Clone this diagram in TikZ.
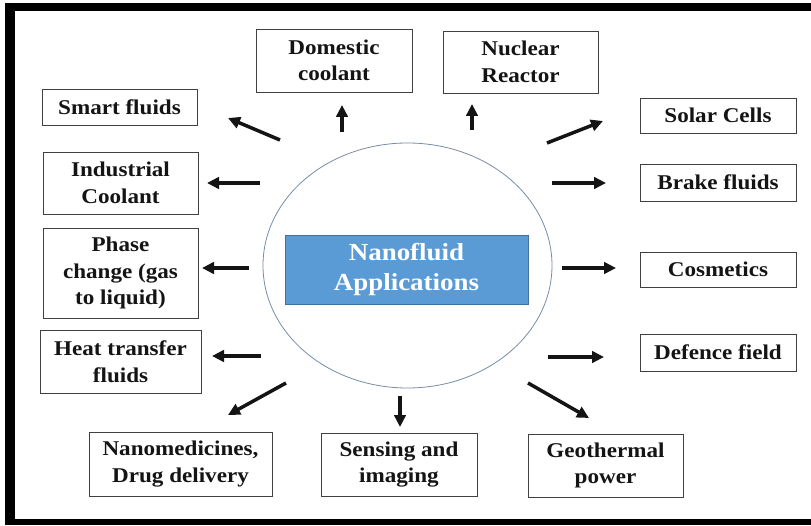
\documentclass[tikz,border=0pt]{standalone}
\usepackage{fontspec}
\setmainfont{Liberation Serif}
\newfontfamily\boxfont[FakeStretch=1.1]{Liberation Serif}
\usetikzlibrary{arrows.meta,shapes.geometric}
\definecolor{hubblue}{RGB}{91,155,213}
\definecolor{hubedge}{RGB}{65,113,156}
\definecolor{ringcol}{RGB}{120,140,165}
\definecolor{txt}{RGB}{20,20,20}
\tikzset{
  appbox/.style={draw=black!75, line width=0.8pt, fill=white, inner sep=0pt, align=center,
    font=\boxfont\bfseries\fontsize{21}{26.5}\selectfont, text=txt},
  arr/.style={line width=3.5pt, draw=txt, -{Triangle[length=12pt,width=11.5pt]}},
  framebar/.style={fill=black, draw=none}
}
\begin{document}
\begin{tikzpicture}[x=1pt,y=-1pt]
\useasboundingbox (0,0) rectangle (811,526);
% frame
\fill[framebar] (5,3) rectangle (811,11);
\fill[framebar] (5,3) rectangle (15,525);
\fill[framebar] (5,519) rectangle (811,525);
% hub
\node[ellipse, draw=ringcol, line width=0.8pt, minimum width=289pt, minimum height=245pt, inner sep=0pt] (ring) at (407.5,265.5) {};
\node[fill=hubblue, draw=hubedge, line width=0.8pt, minimum width=243pt, minimum height=69pt, inner sep=0pt, align=center,
  text=white, font=\boxfont\bfseries\fontsize{24.5}{30}\selectfont] (hub) at (406.5,269.5) {Nanofluid\\Applications};
% boxes
\node[appbox, minimum width=155pt, minimum height=36pt] (smart) at (119.5,107) {Smart fluids};
\node[appbox, minimum width=155pt, minimum height=62pt] (indus) at (120.5,183) {Industrial\\Coolant};
\node[appbox, minimum width=155pt, minimum height=90pt] (phase) at (120.5,273) {Phase\\change (gas\\to liquid)};
\node[appbox, minimum width=161pt, minimum height=63pt] (heat) at (120.5,361.5) {Heat transfer\\fluids};
\node[appbox, minimum width=183pt, minimum height=64pt] (nano) at (180.5,464) {Nanomedicines,\\Drug delivery};
\node[appbox, minimum width=156pt, minimum height=63pt] (sens) at (399,464.5) {Sensing and\\imaging};
\node[appbox, minimum width=155pt, minimum height=63pt] (geo) at (605.5,465.5) {Geothermal\\power};
\node[appbox, minimum width=156pt, minimum height=37pt] (def) at (718,352.5) {Defence field};
\node[appbox, minimum width=156pt, minimum height=35pt] (cos) at (718,269.5) {Cosmetics};
\node[appbox, minimum width=156pt, minimum height=37pt] (brake) at (718,182.5) {Brake fluids};
\node[appbox, minimum width=156pt, minimum height=35pt] (solar) at (718,115.5) {Solar Cells};
\node[appbox, minimum width=156pt, minimum height=63pt] (dom) at (334,60.5) {Domestic\\coolant};
\node[appbox, minimum width=155pt, minimum height=62pt] (nuc) at (520.5,62) {Nuclear\\Reactor};
% arrow ends
\coordinate (smartT) at (280,140); \coordinate (smartH) at (228,118);
\coordinate (indusT) at (260,183); \coordinate (indusH) at (207,183);
\coordinate (phaseT) at (249,268); \coordinate (phaseH) at (202,268);
\coordinate (heatT) at (261,356);  \coordinate (heatH) at (212,356);
\coordinate (nanoT) at (286,383);  \coordinate (nanoH) at (228,415);
\coordinate (sensT) at (400,396);  \coordinate (sensH) at (400,427);
\coordinate (geoT) at (528,383);   \coordinate (geoH) at (589,418);
\coordinate (defT) at (548,357);   \coordinate (defH) at (604,357);
\coordinate (cosT) at (562,268);   \coordinate (cosH) at (616,268);
\coordinate (brakeT) at (552,183); \coordinate (brakeH) at (606,183);
\coordinate (solarT) at (547,143); \coordinate (solarH) at (603,121);
\coordinate (domT) at (342,132);   \coordinate (domH) at (342,105);
\coordinate (nucT) at (472,130);   \coordinate (nucH) at (472,104);
\foreach \n in {smart,indus,phase,heat,nano,sens,geo,def,cos,brake,solar,dom,nuc}
  \draw[arr] (\n T) -- (\n H);
\end{tikzpicture}
\end{document}
